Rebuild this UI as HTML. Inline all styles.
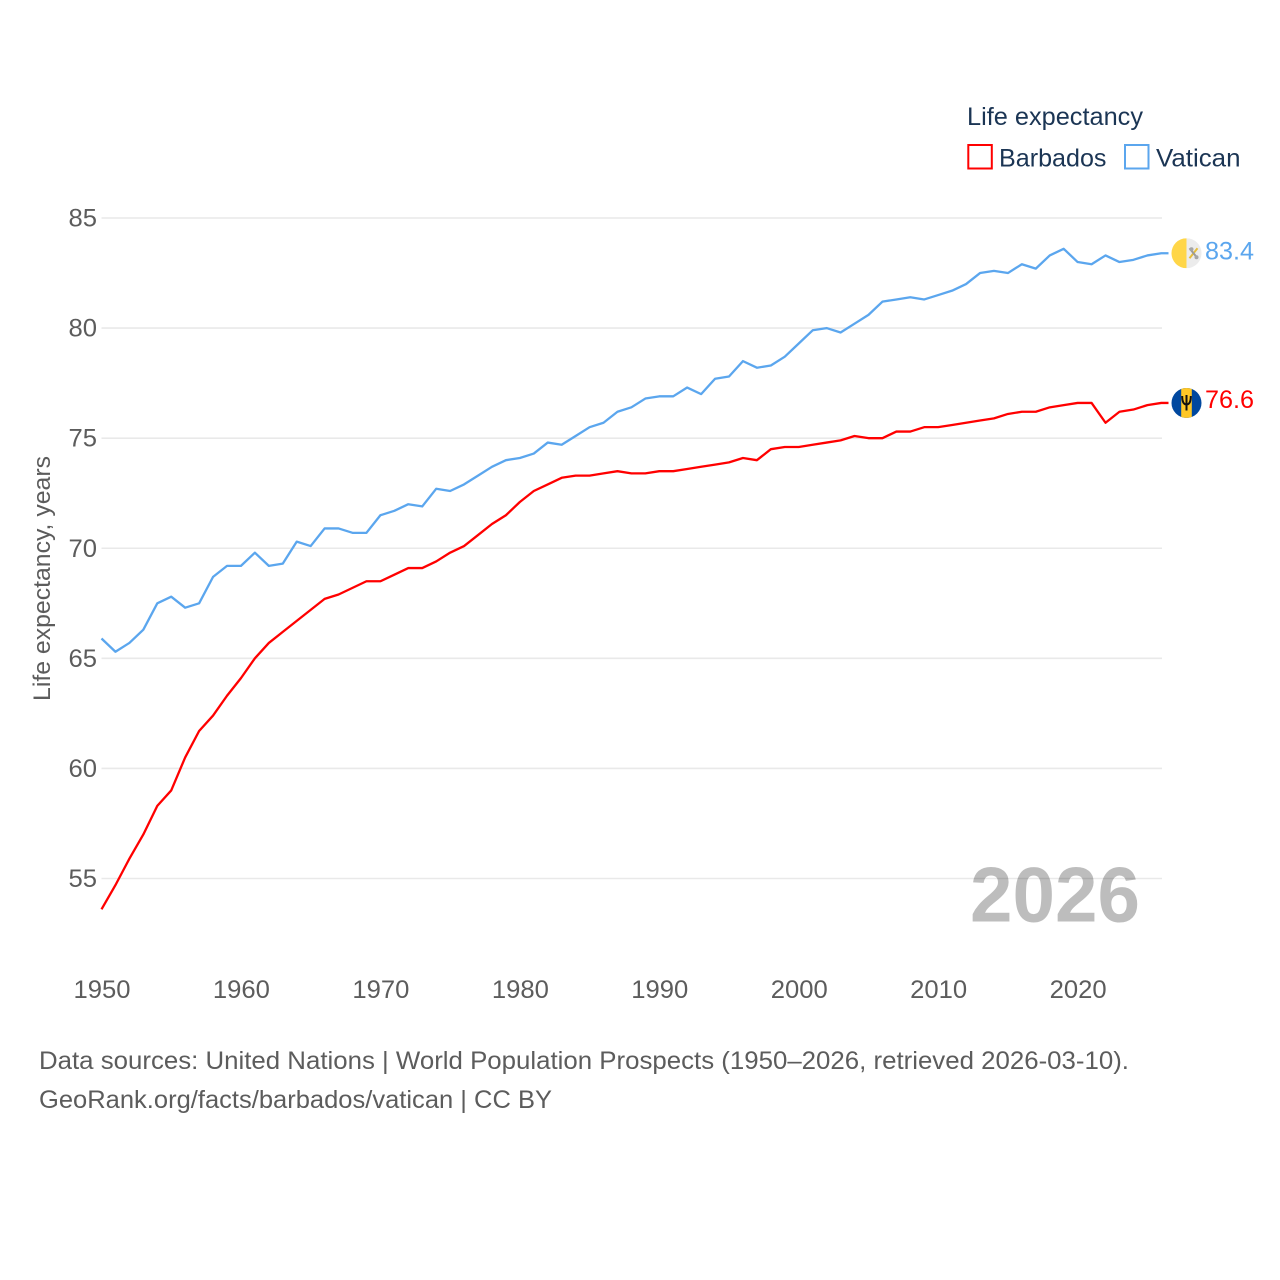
<!DOCTYPE html>
<html lang="en">
<head>
<meta charset="utf-8">
<title>Life expectancy: Barbados and Vatican</title>
<style>
html,body{margin:0;padding:0;background:#fff}
svg{display:block}
text{font-family:"Liberation Sans",sans-serif}
</style>
</head>
<body>
<svg id="chart" width="1280" height="1280" viewBox="0 0 1280 1280" xmlns="http://www.w3.org/2000/svg">
  <rect width="1280" height="1280" fill="#fff"/>
  <g id="grid"></g>
  <g id="yticks"></g>
  <g id="xticks"></g>
  <text transform="translate(50,578.5) rotate(-90)" text-anchor="middle" font-size="24.5" fill="#5c5c5c" textLength="245" lengthAdjust="spacingAndGlyphs">Life expectancy, years</text>
  <text x="970" y="921.5" font-size="78" font-weight="700" fill="#000" fill-opacity="0.26" textLength="170" lengthAdjust="spacingAndGlyphs">2026</text>
  <g id="series"></g>

  <g>
    <text x="967" y="125" font-size="25" fill="#1b3554" textLength="176" lengthAdjust="spacingAndGlyphs">Life expectancy</text>
    <g>
      <rect x="968.3" y="145" width="23.5" height="23.5" fill="#fff" stroke="#ff0000" stroke-width="2"/>
      <text x="999" y="166.5" font-size="25" fill="#1b3554" textLength="107.5" lengthAdjust="spacingAndGlyphs">Barbados</text>
    </g>
    <g>
      <rect x="1125" y="145" width="23.5" height="23.5" fill="#fff" stroke="#5ba6ee" stroke-width="2"/>
      <text x="1156" y="166.5" font-size="25" fill="#1b3554" textLength="84.5" lengthAdjust="spacingAndGlyphs">Vatican</text>
    </g>
  </g>

  <defs>
    <clipPath id="flag-clip"><circle cx="0" cy="0" r="15"/></clipPath>
  </defs>
  <g id="flag-vatican">
    <g clip-path="url(#flag-clip)">
      <rect x="-15" y="-15" width="15" height="30" fill="#ffd648"/>
      <rect x="0" y="-15" width="15" height="30" fill="#ececec"/>
      <path d="M3 5 L11 -5" stroke="#e5bd3c" stroke-width="2"/>
      <path d="M3 -5 L11 5" stroke="#9a9a9a" stroke-width="2"/>
      <circle cx="5" cy="-4" r="2" fill="#a5a5a5"/>
      <circle cx="10" cy="4" r="2" fill="#a5a5a5"/>
    </g>
  </g>
  <g id="flag-barbados">
    <g clip-path="url(#flag-clip)">
      <rect x="-15" y="-15" width="30" height="30" fill="#00489f"/>
      <rect x="-5.3" y="-15" width="10.6" height="30" fill="#ffc726"/>
      <path d="M0 -8 V7.5 M-4.3 -7 C-4.3 -1 -3 1.5 0 1.5 C3 1.5 4.3 -1 4.3 -7" fill="none" stroke="#111" stroke-width="2"/>
    </g>
  </g>

  <g id="labels"></g>

  <g>
    <text x="39" y="1069" font-size="25" fill="#5c5c5c" textLength="1090" lengthAdjust="spacingAndGlyphs">Data sources: United Nations | World Population Prospects (1950–2026, retrieved 2026-03-10).</text>
    <text x="39" y="1108" font-size="25" fill="#5c5c5c" textLength="513" lengthAdjust="spacingAndGlyphs">GeoRank.org/facts/barbados/vatican | CC BY</text>
  </g>

<script>
const startYear = 1950;
const xTickLabels = [1950, 1960, 1970, 1980, 1990, 2000, 2010, 2020];
const yTickLabels = [55, 60, 65, 70, 75, 80, 85];
const barbadosValues = [53.6,54.7,55.9,57.0,58.3,59.0,60.5,61.7,62.4,63.3,64.1,65.0,65.7,66.2,66.7,67.2,67.7,67.9,68.2,68.5,68.5,68.8,69.1,69.1,69.4,69.8,70.1,70.6,71.1,71.5,72.1,72.6,72.9,73.2,73.3,73.3,73.4,73.5,73.4,73.4,73.5,73.5,73.6,73.7,73.8,73.9,74.1,74.0,74.5,74.6,74.6,74.7,74.8,74.9,75.1,75.0,75.0,75.3,75.3,75.5,75.5,75.6,75.7,75.8,75.9,76.1,76.2,76.2,76.4,76.5,76.6,76.6,75.7,76.2,76.3,76.5,76.6];
const vaticanValues = [65.9,65.3,65.7,66.3,67.5,67.8,67.3,67.5,68.7,69.2,69.2,69.8,69.2,69.3,70.3,70.1,70.9,70.9,70.7,70.7,71.5,71.7,72.0,71.9,72.7,72.6,72.9,73.3,73.7,74.0,74.1,74.3,74.8,74.7,75.1,75.5,75.7,76.2,76.4,76.8,76.9,76.9,77.3,77.0,77.7,77.8,78.5,78.2,78.3,78.7,79.3,79.9,80.0,79.8,80.2,80.6,81.2,81.3,81.4,81.3,81.5,81.7,82.0,82.5,82.6,82.5,82.9,82.7,83.3,83.6,83.0,82.9,83.3,83.0,83.1,83.3,83.4];

const NS = 'http://www.w3.org/2000/svg';
function xScale(year) { return 101.5 + (year - 1950) * (1161.3 - 101.5) / 76; }
function yScale(v) { return 878.5 - (v - 55) * (878.5 - 218) / 30; }
function make(tag, attrs, parent, content) {
  const el = document.createElementNS(NS, tag);
  for (const k in attrs) el.setAttribute(k, attrs[k]);
  if (content !== undefined) el.textContent = content;
  parent.appendChild(el);
  return el;
}
const grid = document.getElementById('grid');
const yticks = document.getElementById('yticks');
const xticks = document.getElementById('xticks');
const seriesGroup = document.getElementById('series');
const labels = document.getElementById('labels');

yTickLabels.forEach(function (t) {
  const line = make('line', {x1: 101.5, x2: 1162, y1: yScale(t), y2: yScale(t), stroke: '#e9e9e9', 'stroke-width': 1.6}, grid);
  
  
  const label = make('text', {x: 97, y: yScale(t) + 8.5, 'text-anchor': 'end', 'font-size': 25, fill: '#5c5c5c', textLength: 28.5, lengthAdjust: 'spacingAndGlyphs'}, yticks, String(t));
  
  
});

xTickLabels.forEach(function (t) {
  const label = make('text', {x: xScale(t) + 0.5, y: 998, 'text-anchor': 'middle', 'font-size': 25, fill: '#5c5c5c', textLength: 57, lengthAdjust: 'spacingAndGlyphs'}, xticks, String(t));
  
  
});

function pointsFor(values) {
  const pts = values.map(function (v, i) { return xScale(startYear + i).toFixed(2) + ',' + yScale(v).toFixed(2); });
  const last = values[values.length - 1];
  pts.push('1168.5,' + yScale(last).toFixed(2));
  return pts.join(' ');
}

const barbadosLine = make('polyline', {points: pointsFor(barbadosValues), fill: 'none', stroke: '#ff0000', 'stroke-width': 2.3, 'stroke-linejoin': 'round'}, seriesGroup);



const vaticanLine = make('polyline', {points: pointsFor(vaticanValues), fill: 'none', stroke: '#5ba6ee', 'stroke-width': 2.3, 'stroke-linejoin': 'round'}, seriesGroup);



const barbadosLast = barbadosValues[barbadosValues.length - 1];
const vaticanLast = vaticanValues[vaticanValues.length - 1];
document.getElementById('flag-barbados').setAttribute('transform', 'translate(1186.5,' + yScale(barbadosLast) + ')');
document.getElementById('flag-vatican').setAttribute('transform', 'translate(1186.5,' + yScale(vaticanLast) + ')');

const barbadosLabel = make('text', {x: 1205, y: yScale(barbadosLast) + 5, 'font-size': 25, fill: '#ff0000', textLength: 49, lengthAdjust: 'spacingAndGlyphs'}, labels, barbadosLast.toFixed(1));



const vaticanLabel = make('text', {x: 1205, y: yScale(vaticanLast) + 6.5, 'font-size': 25, fill: '#5ba6ee', textLength: 49, lengthAdjust: 'spacingAndGlyphs'}, labels, vaticanLast.toFixed(1));


</script>
</svg>
</body>
</html>
